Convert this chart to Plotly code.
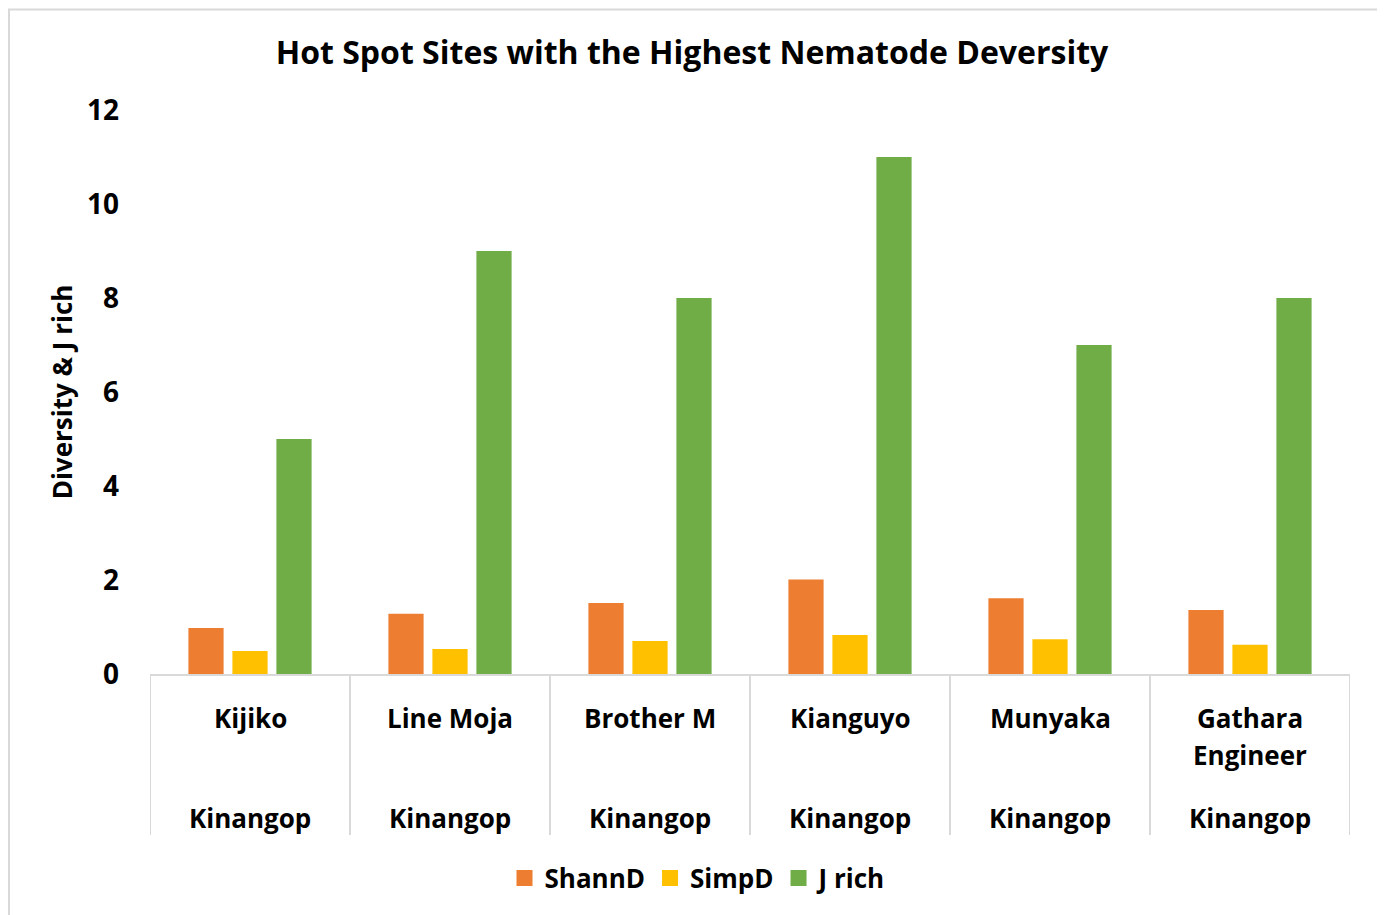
import plotly.graph_objects as go

sites = ["Kijiko", "Line Moja", "Brother M", "Kianguyo", "Munyaka", "Gathara Engineer"]
site_lines = [["Kijiko"], ["Line Moja"], ["Brother M"], ["Kianguyo"], ["Munyaka"], ["Gathara", "Engineer"]]
region = ["Kinangop"] * 6
series_names = ["ShannD", "SimpD", "J rich"]
shannd = [0.98, 1.28, 1.51, 2.01, 1.61, 1.36]
simpd = [0.49, 0.53, 0.70, 0.83, 0.74, 0.62]
jrich = [5, 9, 8, 11, 7, 8]
y_ticks = [0, 2, 4, 6, 8, 10, 12]
colors = ["#ED7D31", "#FFC000", "#70AD47"]

FONT = "Open Sans"
OFF = 8  # page body margin
W, H = 1385 - OFF, 915 - OFF
# target-picture coordinates of plot area
PL, PR, PT, PB = 150, 1350, 110, 674
L, R, T, B = PL - OFF, (W + OFF) - PR, PT - OFF, (H + OFF) - PB
PH = PB - PT
PW = PR - PL


def py(p):
    return (PB - p) / PH


def px(p):
    return (p - PL) / PW


def font(size=26):
    return dict(family=FONT, size=size, color="#000000", weight="bold")


fig = go.Figure()
for name, vals, col in zip(series_names, [shannd, simpd, jrich], colors):
    fig.add_trace(go.Bar(x=sites, y=vals, name=name, marker=dict(color=col, line=dict(width=0)),
                         showlegend=False))
# legend entries with larger square swatches
for name, col in zip(series_names, colors):
    fig.add_trace(go.Scatter(x=[None], y=[None], mode="markers", name=name,
                             marker=dict(symbol="square", size=18, color=col)))

annotations = []
for i, lines in enumerate(site_lines):
    for j, ln in enumerate(lines):
        annotations.append(dict(x=sites[i], xref="x", y=py(718 + 37 * j), yref="paper", text=ln,
                                showarrow=False, font=font(), xanchor="center", yanchor="middle"))
    annotations.append(dict(x=sites[i], xref="x", y=py(818), yref="paper", text=region[i],
                            showarrow=False, font=font(), xanchor="center", yanchor="middle"))

shapes = []
for k in range(len(sites) + 1):
    shapes.append(dict(type="line", xref="x", yref="paper", x0=k - 0.5, x1=k - 0.5, y0=0, y1=py(835),
                       line=dict(color="#D9D9D9", width=2)))
shapes.append(dict(type="rect", xref="paper", yref="paper", x0=px(9), x1=px(1378), y0=py(9.5), y1=py(925),
                   line=dict(color="#D9D9D9", width=2), layer="below"))

fig.update_layout(
    width=W, height=H,
    margin=dict(l=L, r=R, t=T, b=B, autoexpand=False),
    paper_bgcolor="white", plot_bgcolor="white",
    barmode="group", bargap=0.34, bargroupgap=0.2,
    title=dict(text="Hot Spot Sites with the Highest Nematode Deversity", x=(692 - OFF) / W, xref="container",
               y=1 - (53 - OFF) / H, yref="container", xanchor="center", yanchor="middle",
               font=font(32)),
    xaxis=dict(type="category", range=[-0.5, 5.5], showticklabels=False, ticks="",
               showline=True, linecolor="#D9D9D9", linewidth=2, showgrid=False, zeroline=False),
    yaxis=dict(range=[0, 12], tickvals=y_ticks, showgrid=False, zeroline=False, showline=False,
               tickfont=font(28), ticklabelstandoff=30,
               title=dict(text="Diversity & J rich", font=font(26), standoff=6)),
    legend=dict(orientation="h", x=(698 - OFF) / W, xref="container", xanchor="center",
                y=1 - (878 - OFF) / H, yref="container",
                yanchor="middle", font=font(26), itemwidth=30, traceorder="normal",
                itemsizing="trace"),
    annotations=annotations, shapes=shapes,
)

fig.write_html("out.html")
